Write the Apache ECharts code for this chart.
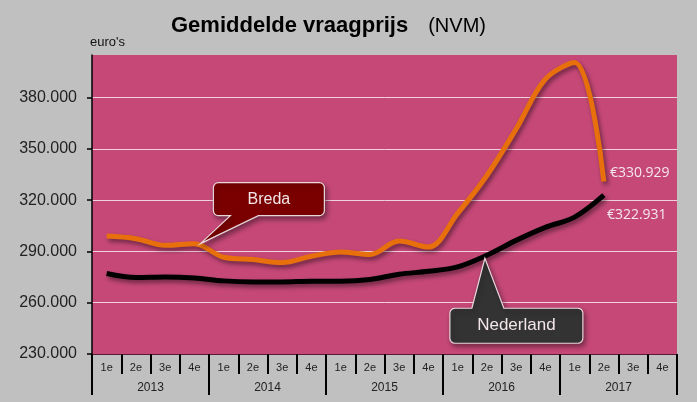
<!DOCTYPE html>
<html>
<head>
<meta charset="utf-8">
<script src="https://cdn.jsdelivr.net/npm/echarts@6/dist/echarts.min.js"></script>
<style>
html, body { margin: 0; padding: 0; background: #c0c0c0; }
#chart { width: 697px; height: 402px; }
</style>
</head>
<body>
<div id="chart"></div>
<script>
const quarters = ['1e', '2e', '3e', '4e', '1e', '2e', '3e', '4e', '1e', '2e', '3e', '4e',
  '1e', '2e', '3e', '4e', '1e', '2e', '3e', '4e'];
const years = ['2013', '2014', '2015', '2016', '2017'];
const breda = [299000, 297500, 293600, 294600, 286600, 285300, 283500, 287200, 289700,
  288200, 296100, 292600, 312300, 334500, 361700, 390900, 400600, 330929];
const nederland = [277100, 274800, 275100, 274500, 272800, 272200, 272200, 272600, 272600,
  273600, 276700, 278400, 281000, 287800, 296500, 304100, 310100, 322931];
const yTicks = [230000, 260000, 290000, 320000, 350000, 380000];

const font = 'Liberation Sans';
const fmt = v => String(v).replace(/\B(?=(\d{3})+(?!\d))/g, '.');

const chart = echarts.init(document.getElementById('chart'));

function lineShadow() {
  return { shadowColor: 'rgba(0,0,0,0.45)', shadowBlur: 4, shadowOffsetX: 2, shadowOffsetY: 3 };
}

chart.setOption({
  backgroundColor: '#c0c0c0',
  animation: false,
  title: {
    left: 166,
    top: 10,
    text: '{a|Gemiddelde vraagprijs}{b|(NVM)}',
    textStyle: {
      rich: {
        a: { fontFamily: font, fontSize: 22, fontWeight: 'bold', color: '#000' },
        b: { fontFamily: font, fontSize: 20, fontWeight: 'normal', color: '#000', padding: [0, 0, 0, 20] }
      }
    }
  },
  grid: {
    left: 92, right: 20, top: 55, bottom: 48,
    show: true, backgroundColor: '#c54877', borderWidth: 0
  },
  xAxis: [
    {
      type: 'category',
      data: quarters,
      position: 'bottom',
      axisLine: { show: true, lineStyle: { color: '#5a1a33', width: 1 } },
      axisTick: { show: true, length: 20, lineStyle: { color: '#000', width: 2 } },
      axisLabel: { interval: 0, margin: 8, fontFamily: font, fontSize: 11, color: '#222' }
    },
    {
      type: 'category',
      data: years,
      position: 'bottom',
      axisLine: { show: false },
      axisTick: { show: true, length: 41, lineStyle: { color: '#000', width: 2 } },
      axisLabel: { interval: 0, margin: 28, fontFamily: font, fontSize: 12, color: '#222' }
    }
  ],
  yAxis: {
    type: 'value',
    min: 230000,
    max: 405000,
    name: "euro's",
    nameLocation: 'end',
    nameGap: 6,
    nameTextStyle: { fontFamily: font, fontSize: 13, color: '#111', align: 'left', padding: [0, 0, 0, -2] },
    axisLine: { show: true, lineStyle: { color: '#000', width: 1.5 } },
    axisTick: { show: true, length: 5, customValues: yTicks, lineStyle: { color: '#000', width: 1.5 } },
    axisLabel: { customValues: yTicks, margin: 15, fontFamily: font, fontSize: 16, color: '#222', formatter: fmt },
    splitLine: { show: true, lineStyle: { color: 'rgba(255,255,255,0.75)', width: 1 } }
  },
  series: [
    {
      name: 'Breda',
      type: 'line',
      data: breda,
      smooth: 0.35,
      showSymbol: false,
      lineStyle: Object.assign({ color: '#e8700c', width: 5 }, lineShadow()),
      endLabel: {
        show: true, offset: [-2, -9],
        formatter: p => '€' + fmt(p.value),
        fontFamily: 'Open Sans', fontSize: 14, color: '#f6e6ee'
      }
    },
    {
      name: 'Nederland',
      type: 'line',
      data: nederland,
      smooth: 0.35,
      showSymbol: false,
      lineStyle: Object.assign({ color: '#000', width: 5 }, lineShadow()),
      endLabel: {
        show: true, offset: [-5, 20],
        formatter: p => '€' + fmt(p.value),
        fontFamily: 'Open Sans', fontSize: 14, color: '#f6e6ee'
      }
    }
  ]
});

// rounded corner as a few points
function corner(pts, cx, cy, r, a0) {
  for (let i = 0; i <= 4; i++) {
    const a = (a0 + i * 22.5) * Math.PI / 180;
    pts.push([cx + r * Math.cos(a), cy + r * Math.sin(a)]);
  }
}

// callout outline: rounded box with a pointer to the tip
function calloutPoints(tip, x0, y0, w, h, b1, b2, fromTop) {
  const r = 5, x1 = x0 + w, y1 = y0 + h, pts = [];
  corner(pts, x0 + r, y0 + r, r, 180);
  if (fromTop) pts.push([b1, y0], tip, [b2, y0]);
  corner(pts, x1 - r, y0 + r, r, 270);
  corner(pts, x1 - r, y1 - r, r, 0);
  if (!fromTop) pts.push([b2, y1], tip, [b1, y1]);
  corner(pts, x0 + r, y1 - r, r, 90);
  return pts;
}

function callout(tip, x0, y0, w, h, b1, b2, fromTop, fill, label, size) {
  return [
    {
      type: 'polygon',
      shape: { points: calloutPoints(tip, x0, y0, w, h, b1, b2, fromTop) },
      style: {
        fill: fill, stroke: '#e8d8dc', lineWidth: 1.2,
        shadowColor: 'rgba(0,0,0,0.4)', shadowBlur: 5, shadowOffsetX: 2, shadowOffsetY: 3
      },
      z: 100
    },
    {
      type: 'text',
      x: x0 + w / 2, y: y0 + h / 2,
      style: {
        text: label, fill: '#f2e6e8', font: size + 'px "' + font + '"',
        align: 'center', verticalAlign: 'middle'
      },
      z: 101
    }
  ];
}

const tB = chart.convertToPixel({ seriesIndex: 0 }, [3, breda[3]]);
const tN = chart.convertToPixel({ seriesIndex: 1 }, [13, nederland[13]]);
tB[0] += 6; tN[0] -= 2; tN[1] += 3;

chart.setOption({
  graphic: [].concat(
    callout(tB, tB[0] + 13, tB[1] - 61, 111, 33, tB[0] + 30, tB[0] + 58, false, '#7a0000', 'Breda', 16),
    callout(tN, tN[0] - 35, tN[1] + 50, 133, 35, tN[0] - 13, tN[0] + 19, true, '#333333', 'Nederland', 17)
  )
});
</script>
</body>
</html>
